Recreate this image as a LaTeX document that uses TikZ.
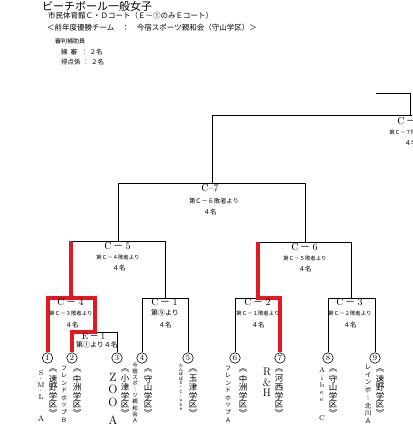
\documentclass[tikz,border=0pt]{standalone}
\usepackage{fontspec}
\newfontfamily\jp{Noto Sans CJK JP}
\definecolor{redc}{RGB}{225,25,35}
\newcommand\fs[1]{\fontsize{#1}{#1}\selectfont}
\newcommand\wc[1]{\makebox[1em]{#1}}
\newcommand\cl[1]{\wc{C}{\jp －}\wc{#1}}
\newcommand\ndot{{\jp\fs{4.5}・}}
\ExplSyntaxOn
\NewDocumentCommand \vt { m m }
  {
    \vbox:n
      {
        \offinterlineskip
        \tl_map_inline:nn {#2}
          { \vbox_to_ht:nn {#1} { \vss \hbox_to_wd:nn { 1em } { \hss ##1 \hss } \vss } }
      }
  }
\ExplSyntaxOff
\tikzset{
  br/.style={line width=0.9pt, line join=miter},
  win/.style={line width=4pt, draw=redc, line join=miter},
  num/.style={circle, draw, line width=0.6pt, inner sep=0pt, minimum size=10.5pt, font=\fs{8}},
  lab/.style={inner sep=0pt, font=\fs{10}},
  sub/.style={inner sep=0pt, font=\jp\fs{5.4}},
  cnt/.style={inner sep=0pt, font=\jp\fs{6.5}},
  vcol/.style={inner sep=0pt, anchor=north},
  ttl/.style={inner sep=0pt, anchor=west, font=\jp\fs{7.5}},
  plain/.style={inner sep=0pt}
}
\begin{document}
\begin{tikzpicture}[x=1pt,y=-1pt]
\useasboundingbox (0,0) rectangle (412,428);
\clip (0,0) rectangle (412,428);

% header
\node[ttl,font=\jp\fs{11}] (title) at (42,6) {ビーチボール一般女子};
\node[ttl] (h1) at (48,16) {市民体育館Ｃ・Ｄコート（Ｅ－①のみＥコート）};
\node[ttl] (h2) at (47,28) {＜前年度優勝チーム　：　今宿スポーツ親和会（守山学区）＞};
\node[ttl,font=\jp\fs{6}] (h3) at (55,41) {審判補助員};
\node[ttl,font=\jp\fs{6.5}] (h4) at (61,52) {線\hspace{3pt}審\hspace{4pt}：\hspace{2pt}２名};
\node[ttl,font=\jp\fs{6.5}] (h5) at (61,62) {得点係\hspace{2pt}：\hspace{2pt}２名};

% players
\node[num] (p1) at (47.5,358) {1};
\node[num] (p2) at (72,358) {2};
\node[num] (p3) at (117,358) {3};
\node[num] (p4) at (142,358) {4};
\node[num] (p5) at (188,358) {5};
\node[num] (p6) at (235,358) {6};
\node[num] (p7) at (280,358) {7};
\node[num] (p8) at (328,358) {8};
\node[num] (p9) at (375,358) {9};

% match corners
\coordinate (e1s) at (95,332);
\coordinate (e1r) at (117,332);
\coordinate (c4r) at (95,298);
\coordinate (c4s) at (71,298);
\coordinate (c1s) at (165,298);
\coordinate (c1r) at (188,298);
\coordinate (c5l) at (71,241);
\coordinate (c5r) at (165,241);
\coordinate (c5s) at (118,241);
\coordinate (c2s) at (258,298);
\coordinate (c2r) at (280,298);
\coordinate (c3s) at (351,298);
\coordinate (c3r) at (375,298);
\coordinate (c6l) at (258,242);
\coordinate (c6r) at (351,242);
\coordinate (c6s) at (305,242);
\coordinate (c7l) at (118,183);
\coordinate (c7r) at (305,183);
\coordinate (c7s) at (212,183);
\coordinate (c8l) at (212,115);
\coordinate (c8r) at (416,115);
\coordinate (xa) at (376,93);
\coordinate (xb) at (410,93);
\coordinate (xc) at (410,115);

% black bracket
\draw[br] (p2.north) |- (e1r) -- (p3.north);
\draw[br] (e1s) -- (c4r) -| (p1.north);
\draw[br] (c4s) -- (c5l) -- (c5r) -- (c1s);
\draw[br] (p4.north) |- (c1r) -- (p5.north);
\draw[br] (c5s) -- (c7l) -- (c7r) -- (c6s);
\draw[br] (p6.north) |- (c2r) -- (p7.north);
\draw[br] (p8.north) |- (c3r) -- (p9.north);
\draw[br] (c2s) -- (c6l) -- (c6r) -- (c3s);
\draw[br] (c7s) -- (c8l) -- (c8r);
\draw[br] (xa) -- (xb) -- (xc);

% red winners
\draw[win] (c5l) -- (c4s);
\draw[win] (p1.north) |- (c4r) -- (e1s) -| (p2.north);
\draw[win] (c6l) -- (c2s) -- (c2r) -- (p7.north);

% match labels
\node[lab] (l8) at (411,121) {\cl8};
\node[sub] (l8a) at (411,132) {第Ｃ－７敗者より};
\node[cnt] (l8b) at (411,143) {４名};

\node[lab] (l7) at (210,188) {C–7};
\node[sub,font=\jp\fs{6.2}] (l7a) at (214,201) {第Ｃ－６敗者より};
\node[cnt] (l7b) at (210,212) {４名};

\node[lab] (l5) at (118,246) {\cl5};
\node[sub] (l5a) at (118,257) {第Ｃ－４敗者より};
\node[cnt] (l5b) at (119,268) {４名};

\node[lab] (l6) at (305,247) {\cl6};
\node[sub] (l6a) at (305,258) {第Ｃ－５敗者より};
\node[cnt] (l6b) at (305,269) {４名};

\node[lab] (l4) at (71,302) {\cl4};
\node[sub] (l4a) at (71,313) {第Ｃ－３敗者より};
\node[cnt] (l4b) at (72,325) {４名};

\node[lab] (l1) at (165,302) {\cl1};
\node[sub,font=\jp\fs{7}] (l1a) at (165,313) {第⑨より};
\node[cnt] (l1b) at (165,325) {４名};

\node[lab] (l2) at (258,302) {\cl2};
\node[sub] (l2a) at (258,313) {第Ｃ－１敗者より};
\node[cnt] (l2b) at (258,325) {４名};

\node[lab] (l3) at (350,302) {\cl3};
\node[sub] (l3a) at (350,313) {第Ｃ－２敗者より};
\node[cnt] (l3b) at (350,325) {４名};

\node[lab,font=\fs{9}] (le) at (94,336) {\wc{E}{\jp －}\wc{1}};
\node[plain,font=\jp\fs{7}] (lea) at (97,345) {第①より４名};

% teams (vertical text)
\node[vcol,font=\fs{7}] (t1) at (41,370) {\vt{6pt}{S\ndot M\ndot L}};
\node[plain,font=\fs{8}] (t1b) at (41,419) {A};
\node[vcol,font=\jp\fs{8.5}] (d1) at (53,365.7) {\vt{8.6pt}{︽速野学区︾}};

\node[vcol,font=\jp\fs{6}] (t2) at (64,364.3) {\vt{7.4pt}{フレンドホップＢ}};
\node[vcol,font=\jp\fs{8.5}] (d2) at (77,365.7) {\vt{8.6pt}{︽中洲学区︾}};

\node[vcol,font=\fs{12}] (t3) at (113,370.75) {\vt{12.5pt}{ZOO}};
\node[plain,font=\fs{12}] (t3b) at (113,420) {A};
\node[vcol,font=\jp\fs{8.5}] (d3) at (125,365.7) {\vt{8.6pt}{︽小津学区︾}};

\node[vcol,font=\jp\fs{5.5}] (t4) at (135,362) {\vt{6.1pt}{今宿スポ︱ツ親和会Ａ}};
\node[vcol,font=\jp\fs{8.5}] (d4) at (148,365.7) {\vt{8.6pt}{︽守山学区︾}};

\node[vcol,font=\jp\fs{4.3}] (t5) at (181,363) {\vt{4.4pt}{たんぽぽⅡ・Ｃ︱ｕｂｅ}};
\node[vcol,font=\jp\fs{8.5}] (d5) at (193,365.7) {\vt{8.6pt}{︽玉津学区︾}};

\node[vcol,font=\jp\fs{6}] (t6) at (228,364.3) {\vt{7.4pt}{フレンドホップＡ}};
\node[vcol,font=\jp\fs{8.5}] (d6) at (243,365.7) {\vt{8.6pt}{︽中洲学区︾}};

\node[vcol,font=\fs{11}] (t7) at (267,366.75) {\vt{10.5pt}{R\&H}};
\node[vcol,font=\jp\fs{8.5}] (d7) at (279,365.7) {\vt{8.6pt}{︽河西学区︾}};

\node[vcol,font=\fs{7}] (t8) at (322,366.25) {\vt{7.5pt}{Aibee}};
\node[plain,font=\fs{7}] (t8b) at (322,418) {C};
\node[vcol,font=\jp\fs{8.5}] (d8) at (333,365.7) {\vt{8.6pt}{︽守山学区︾}};

\node[vcol,font=\jp\fs{6.5}] (t9) at (368,363.15) {\vt{7.7pt}{レインボ︱北川Ａ}};
\node[vcol,font=\jp\fs{8.5}] (d9) at (380,365.7) {\vt{8.6pt}{︽速野学区︾}};
\end{tikzpicture}
\end{document}
